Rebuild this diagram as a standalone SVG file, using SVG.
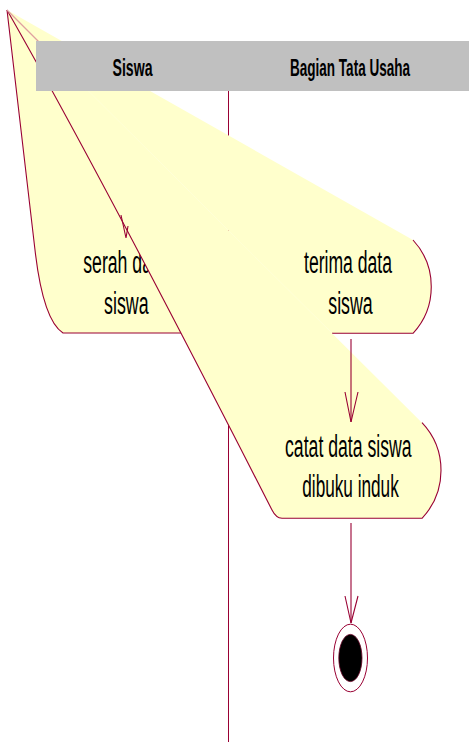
<svg xmlns="http://www.w3.org/2000/svg" width="469" height="742" viewBox="0 0 469 742">
  <style>
    .lane { stroke: #990033; stroke-width: 1; fill: none; }
    .fill { fill: #ffffcc; stroke: none; }
    .edge { fill: none; stroke: #990033; stroke-width: 1.1; }
    .seam { fill: none; stroke: #e0a0a0; stroke-width: 1.2; }
    .label { font-family: "Liberation Sans", Arial, sans-serif; font-size: 31px; fill: #000; text-anchor: middle; }
    .head { font-family: "Liberation Sans", Arial, sans-serif; font-size: 24px; font-weight: bold; fill: #000; text-anchor: middle; }
    .flow { fill: none; stroke: #990033; stroke-width: 1.1; }
  </style>

  <!-- swimlane divider -->
  <line class="lane" x1="228.5" y1="91" x2="228.5" y2="742"/>

  <!-- activity: serah data siswa -->
  <g id="serah-data-siswa">
    <path class="fill" d="M7,10 L35,250 C39,285 46,322 63,333 L186,333 Z"/>
    <path class="edge" d="M7,10 L35,250 C39,285 46,322 63,333 L184,333"/>
    <text class="label" x="125" y="273" textLength="83.5" lengthAdjust="spacingAndGlyphs">serah data</text>
    <text class="label" x="126.3" y="314" textLength="44.5" lengthAdjust="spacingAndGlyphs">siswa</text>
  </g>

  <!-- activity: terima data siswa -->
  <g id="terima-data-siswa">
    <path class="fill" d="M7,10 L413,240 A68.7,68.7 0 0 1 413,333.3 L332,333.3 Z"/>
    <path class="edge" d="M413,240 A68.7,68.7 0 0 1 413,333.3 L332,333.3"/>
    <text class="label" x="348" y="273" textLength="88" lengthAdjust="spacingAndGlyphs">terima data</text>
    <text class="label" x="350.5" y="314" textLength="44.5" lengthAdjust="spacingAndGlyphs">siswa</text>
  </g>

  <!-- activity: catat data siswa dibuku induk -->
  <g id="catat-data-siswa">
    <path class="fill" d="M7,10 Q102,176.7 272,510 Q276,518 282,518.3 L422,518.3 A69.6,69.6 0 0 0 422,422.7 Z"/>
    <path class="edge" d="M7,10 Q102,176.7 272,510 Q276,518 282,518.3 L422,518.3 A69.6,69.6 0 0 0 422,422.7"/>
    <text class="label" x="348.3" y="457" textLength="126.5" lengthAdjust="spacingAndGlyphs">catat data siswa</text>
    <text class="label" x="350.5" y="497" textLength="96.5" lengthAdjust="spacingAndGlyphs">dibuku induk</text>
  </g>

  <!-- seam between the two fills near the origin point -->
  <line class="seam" x1="7" y1="10" x2="45" y2="48"/>

  <!-- transitions -->
  <g id="connectors">
    <path class="flow" d="M121,215 L126,238 L128,226"/>
    <line class="flow" x1="351" y1="339" x2="351" y2="422"/>
    <path class="flow" d="M345,392 L351,422 L358,392"/>
    <line class="flow" x1="351" y1="523" x2="351" y2="623"/>
    <path class="flow" d="M345,596 L351,623 L358,596"/>
  </g>

  <!-- end state -->
  <g id="end-state">
    <ellipse cx="350.5" cy="658" rx="17" ry="33.8" fill="#ffffff" stroke="#990033" stroke-width="1"/>
    <ellipse cx="350.4" cy="658" rx="11.6" ry="23.6" fill="#000000" stroke="#660022" stroke-width="0.8"/>
  </g>

  <!-- swimlane header -->
  <g id="lane-header">
    <rect x="36" y="41" width="433" height="50" fill="#c0c0c0"/>
    <text class="head" x="132.5" y="76" textLength="40" lengthAdjust="spacingAndGlyphs">Siswa</text>
    <text class="head" x="350" y="75.5" textLength="120" lengthAdjust="spacingAndGlyphs">Bagian Tata Usaha</text>
  </g>
</svg>
